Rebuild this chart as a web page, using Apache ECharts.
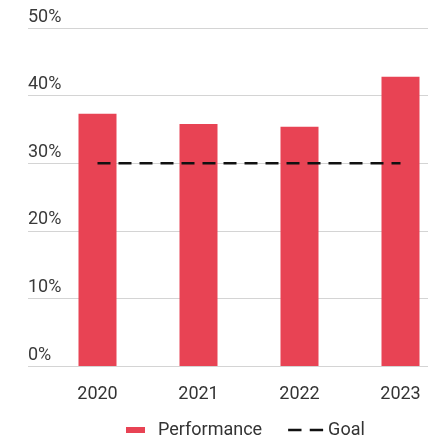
<!DOCTYPE html>
<html>
<head>
<meta charset="utf-8">
<script src="https://cdn.jsdelivr.net/npm/echarts@6/dist/echarts.min.js"></script>
<style>
  html, body { margin: 0; padding: 0; background: #fff; }
  #chart { width: 433px; height: 438px; }
</style>
</head>
<body>
<div id="chart"></div>
<script>
// data
var years = ['2020', '2021', '2022', '2023'];
var performance = [37.3, 35.8, 35.4, 42.8];
var goal = [30, 30, 30, 30];
var yTicks = [0, 10, 20, 30, 40, 50];

var red = '#e84354';
var font = 'Roboto, "Noto Sans", sans-serif';

var chart = echarts.init(document.getElementById('chart'));
chart.setOption({
  animation: false,
  textStyle: { fontFamily: font },
  grid: [
    { left: 28, right: 5, top: 28, bottom: 72, outerBoundsMode: 'none' },
    { left: 47, width: 404, top: 28, bottom: 72, outerBoundsMode: 'none' }
  ],
  legend: {
    top: 416,
    left: 121,
    itemWidth: 35,
    itemHeight: 6,
    itemGap: 26,
    textStyle: { fontSize: 18, color: '#333', fontFamily: font },
    data: [
      { name: 'Performance', icon: 'path://M0,0h19v6h-19z' },
      { name: 'Goal', icon: 'path://M0,0h13v2.5h-13zM21,0h13v2.5h-13z', itemStyle: { color: '#111' } }
    ]
  },
  xAxis: [
    { gridIndex: 0, type: 'category', data: years, show: false },
    {
      gridIndex: 1,
      type: 'category',
      data: years,
      axisLine: { show: false },
      axisTick: { show: false },
      axisLabel: { fontSize: 18, color: '#333', margin: 19 }
    }
  ],
  yAxis: [
    {
      gridIndex: 0,
      type: 'value',
      min: yTicks[0],
      max: yTicks[yTicks.length - 1],
      interval: 10,
      axisLine: { show: false },
      axisTick: { show: false },
      splitLine: { lineStyle: { color: '#d4d4d4', width: 1 } },
      axisLabel: {
        inside: true,
        margin: 0,
        align: 'left',
        verticalAlign: 'bottom',
        padding: [0, 0, 2, 0],
        fontSize: 18,
        color: '#3a3a3a',
        formatter: '{value}%'
      }
    },
    { gridIndex: 1, type: 'value', min: 0, max: 50, show: false }
  ],
  series: [
    {
      name: 'Performance',
      type: 'bar',
      xAxisIndex: 1,
      yAxisIndex: 1,
      barWidth: 38,
      itemStyle: { color: red },
      data: performance
    },
    {
      name: 'Goal',
      type: 'line',
      xAxisIndex: 1,
      yAxisIndex: 1,
      symbol: 'none',
      z: 5,
      lineStyle: { color: '#111', width: 2.5, type: [13, 8] },
      itemStyle: { color: '#111' },
      data: goal
    }
  ]
});
</script>
</body>
</html>
